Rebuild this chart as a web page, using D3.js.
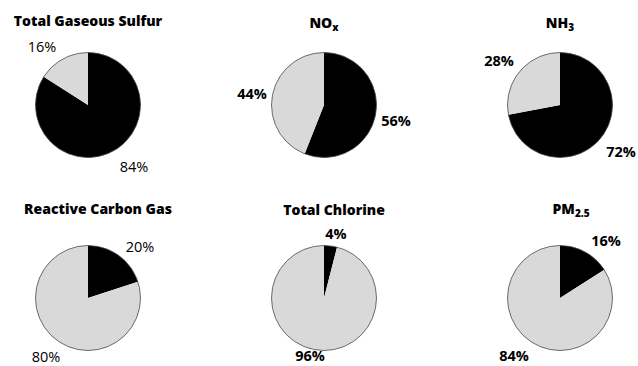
<!DOCTYPE html>
<html>
<head>
<meta charset="utf-8">
<script src="https://cdn.jsdelivr.net/npm/d3@7"></script>
<style>
  html, body { margin: 0; padding: 0; background: #fff; }
  svg { display: block; }
  text { font-family: "Open Sans", Lato, sans-serif; fill: #000; }
</style>
</head>
<body>
<svg id="chart" width="638" height="366"></svg>
<script>
// Share of each pollutant (percent): dark slice first, light slice second
const pollutants = ["Total Gaseous Sulfur", "NOx", "NH3", "Reactive Carbon Gas", "Total Chlorine", "PM2.5"];
const darkShare  = [84, 56, 72, 20, 4, 16];
const lightShare = [16, 44, 28, 80, 96, 84];

// Title pieces: [main text, subscript]
const titleMain = ["Total Gaseous Sulfur", "NO", "NH", "Reactive Carbon Gas", "Total Chlorine", "PM"];
const titleSub  = ["", "x", "3", "", "", "2.5"];

// Layout: label anchor offsets from each pie centre [dark label, light label]
const labelOffsets = [
  [[46, 67], [-46, -53]],
  [[72, 21], [-72, -6]],
  [[61, 52], [-61, -39]],
  [[52, -46], [-42, 64]],
  [[12, -59], [-14, 63]],
  [[46, -52], [-46, 63]]
];
const boldLabels = [false, true, true, false, true, true];
const titleCenters = [[88, 26], [324, 28], [560, 28], [98, 214], [334, 215], [571, 214]];

const svg = d3.select("#chart");
const col = d3.scalePoint().domain([0, 1, 2]).range([88, 560]);
const rowY = [105, 298];
const radius = 52.5;

const color = d3.scaleOrdinal().domain(["dark", "light"]).range(["#000000", "#d9d9d9"]);
const pie = d3.pie().sort(null).value(d => d.value);
const arc = d3.arc().innerRadius(0).outerRadius(radius);

pollutants.forEach((name, i) => {
  const cx = col(i % 3);
  const cy = rowY[Math.floor(i / 3)];
  const data = [
    { key: "dark", value: darkShare[i] },
    { key: "light", value: lightShare[i] }
  ];
  const g = svg.append("g").attr("transform", `translate(${cx},${cy})`);

  g.selectAll("path.slice")
    .data(pie(data))
    .join("path")
    .attr("class", "slice")
    .attr("d", arc)
    .attr("fill", d => color(d.data.key));

  g.append("circle")
    .attr("r", radius)
    .attr("fill", "none")
    .attr("stroke", "#4a4a4a")
    .attr("stroke-width", 0.8);

  data.forEach((d, j) => {
    const [dx, dy] = labelOffsets[i][j];
    g.append("text")
      .attr("x", dx)
      .attr("y", dy)
      .attr("text-anchor", "middle")
      .style("font-size", "14.5px")
      .style("font-weight", boldLabels[i] ? 700 : 400)
      .text(d.value + "%");
  });

  const [tx, ty] = titleCenters[i];
  const t = svg.append("text")
    .attr("x", tx)
    .attr("y", ty)
    .attr("text-anchor", "middle")
    .style("font-size", "14px")
    .style("font-weight", 800);
  t.append("tspan").text(titleMain[i]);
  if (titleSub[i]) {
    t.append("tspan")
      .attr("dy", 3)
      .style("font-size", "10px")
      .text(titleSub[i]);
  }
});
</script>
</body>
</html>
